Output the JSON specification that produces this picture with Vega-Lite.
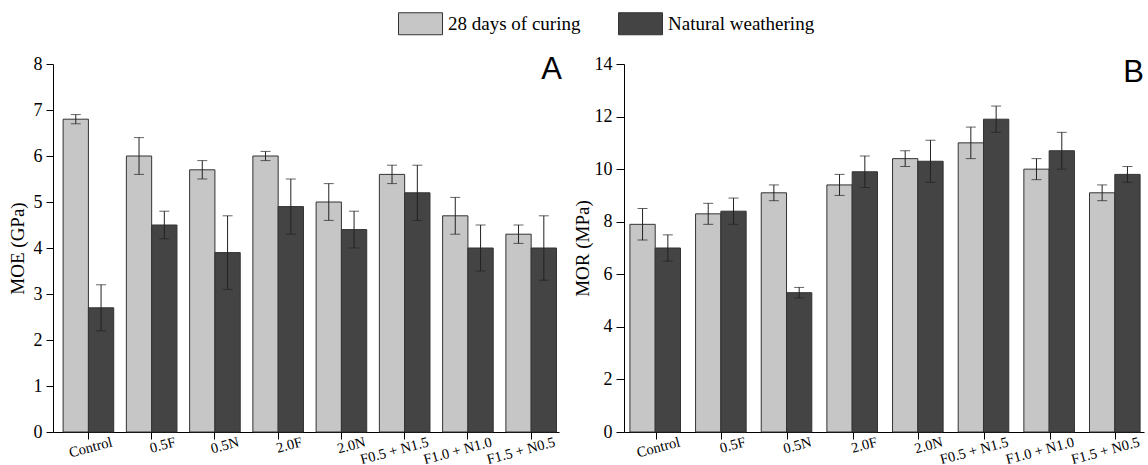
{
  "$schema": "https://vega.github.io/schema/vega-lite/v6.json",
  "padding": {"left": 8, "top": 1, "right": 2, "bottom": 0},
  "spacing": 11,
  "datasets": {
    "moe": [
      {"sample": "Control", "cond": "28 days of curing", "value": 6.8, "sd": 0.1},
      {"sample": "Control", "cond": "Natural weathering", "value": 2.7, "sd": 0.5},
      {"sample": "0.5F", "cond": "28 days of curing", "value": 6.0, "sd": 0.4},
      {"sample": "0.5F", "cond": "Natural weathering", "value": 4.5, "sd": 0.3},
      {"sample": "0.5N", "cond": "28 days of curing", "value": 5.7, "sd": 0.2},
      {"sample": "0.5N", "cond": "Natural weathering", "value": 3.9, "sd": 0.8},
      {"sample": "2.0F", "cond": "28 days of curing", "value": 6.0, "sd": 0.1},
      {"sample": "2.0F", "cond": "Natural weathering", "value": 4.9, "sd": 0.6},
      {"sample": "2.0N", "cond": "28 days of curing", "value": 5.0, "sd": 0.4},
      {"sample": "2.0N", "cond": "Natural weathering", "value": 4.4, "sd": 0.4},
      {"sample": "F0.5 + N1.5", "cond": "28 days of curing", "value": 5.6, "sd": 0.2},
      {"sample": "F0.5 + N1.5", "cond": "Natural weathering", "value": 5.2, "sd": 0.6},
      {"sample": "F1.0 + N1.0", "cond": "28 days of curing", "value": 4.7, "sd": 0.4},
      {"sample": "F1.0 + N1.0", "cond": "Natural weathering", "value": 4.0, "sd": 0.5},
      {"sample": "F1.5 + N0.5", "cond": "28 days of curing", "value": 4.3, "sd": 0.2},
      {"sample": "F1.5 + N0.5", "cond": "Natural weathering", "value": 4.0, "sd": 0.7}
    ],
    "mor": [
      {"sample": "Control", "cond": "28 days of curing", "value": 7.9, "sd": 0.6},
      {"sample": "Control", "cond": "Natural weathering", "value": 7.0, "sd": 0.5},
      {"sample": "0.5F", "cond": "28 days of curing", "value": 8.3, "sd": 0.4},
      {"sample": "0.5F", "cond": "Natural weathering", "value": 8.4, "sd": 0.5},
      {"sample": "0.5N", "cond": "28 days of curing", "value": 9.1, "sd": 0.3},
      {"sample": "0.5N", "cond": "Natural weathering", "value": 5.3, "sd": 0.2},
      {"sample": "2.0F", "cond": "28 days of curing", "value": 9.4, "sd": 0.4},
      {"sample": "2.0F", "cond": "Natural weathering", "value": 9.9, "sd": 0.6},
      {"sample": "2.0N", "cond": "28 days of curing", "value": 10.4, "sd": 0.3},
      {"sample": "2.0N", "cond": "Natural weathering", "value": 10.3, "sd": 0.8},
      {"sample": "F0.5 + N1.5", "cond": "28 days of curing", "value": 11.0, "sd": 0.6},
      {"sample": "F0.5 + N1.5", "cond": "Natural weathering", "value": 11.9, "sd": 0.5},
      {"sample": "F1.0 + N1.0", "cond": "28 days of curing", "value": 10.0, "sd": 0.4},
      {"sample": "F1.0 + N1.0", "cond": "Natural weathering", "value": 10.7, "sd": 0.7},
      {"sample": "F1.5 + N0.5", "cond": "28 days of curing", "value": 9.1, "sd": 0.3},
      {"sample": "F1.5 + N0.5", "cond": "Natural weathering", "value": 9.8, "sd": 0.3}
    ]
  },
  "config": {
    "font": "Liberation Serif",
    "view": {"stroke": null},
    "axis": {
      "grid": false,
      "domainColor": "#000000",
      "tickColor": "#000000",
      "labelColor": "#000000",
      "titleColor": "#000000",
      "labelFont": "Liberation Serif",
      "titleFont": "Liberation Serif",
      "titleFontWeight": "normal",
      "tickSize": 7
    },
    "axisY": {"labelFontSize": 18, "titleFontSize": 19, "labelPadding": 4},
    "axisX": {"labelFontSize": 14.5, "labelAngle": -15, "labelAlign": "right", "labelBaseline": "top", "labelOffset": 22, "labelPadding": -4, "title": null}
  },
  "hconcat": [
    {
      "width": 506,
      "height": 368,
      "title": {"text": "A", "anchor": "end", "frame": "group", "font": "Liberation Sans", "fontSize": 31, "fontWeight": "normal", "color": "#000000", "offset": -31, "dx": 3},
      "data": {"name": "moe"},
      "encoding": {
        "x": {"field": "sample", "type": "nominal", "sort": ["Control", "0.5F", "0.5N", "2.0F", "2.0N", "F0.5 + N1.5", "F1.0 + N1.0", "F1.5 + N0.5"], "scale": {"paddingInner": 0.2, "paddingOuter": 0.1, "align": 0.8}, "axis": {"title": null}},
        "xOffset": {"field": "cond", "type": "nominal", "sort": ["28 days of curing", "Natural weathering"]},
        "y": {"field": "value", "type": "quantitative", "scale": {"domain": [0, 8]}, "axis": {"title": "MOE (GPa)", "titlePadding": 6, "values": [0, 1, 2, 3, 4, 5, 6, 7, 8]}}
      },
      "layer": [
        {
          "mark": {"type": "bar", "stroke": "#333333", "strokeWidth": 1},
          "encoding": {
            "color": {"field": "cond", "type": "nominal", "scale": {"domain": ["28 days of curing", "Natural weathering"], "range": ["#c6c6c6", "#444444"]},
              "legend": {"orient": "none", "legendX": 345, "legendY": -63, "direction": "horizontal", "title": null, "symbolType": "M-1,-0.5H1V0.5H-1Z", "symbolSize": 1936, "symbolStrokeColor": "#333333", "symbolStrokeWidth": 1, "symbolOpacity": 1, "labelFont": "Liberation Serif", "labelFontSize": 19, "labelColor": "#000000", "labelOffset": 5, "columnPadding": 35, "padding": 0}}
          }
        },
        {
          "mark": {"type": "errorbar", "color": "#222222", "ticks": {"size": 10}},
          "encoding": {"yError": {"field": "sd"}}
        }
      ]
    },
    {
      "width": 520,
      "height": 368,
      "title": {"text": "B", "anchor": "end", "frame": "group", "font": "Liberation Sans", "fontSize": 31, "fontWeight": "normal", "color": "#000000", "offset": -34, "dx": 0},
      "data": {"name": "mor"},
      "encoding": {
        "x": {"field": "sample", "type": "nominal", "sort": ["Control", "0.5F", "0.5N", "2.0F", "2.0N", "F0.5 + N1.5", "F1.0 + N1.0", "F1.5 + N0.5"], "scale": {"paddingInner": 0.2, "paddingOuter": 0.06, "align": 0.75}, "axis": {"title": null}},
        "xOffset": {"field": "cond", "type": "nominal", "sort": ["28 days of curing", "Natural weathering"]},
        "y": {"field": "value", "type": "quantitative", "scale": {"domain": [0, 14]}, "axis": {"title": "MOR (MPa)", "titlePadding": 2, "tickSize": 8, "values": [0, 2, 4, 6, 8, 10, 12, 14]}}
      },
      "layer": [
        {
          "mark": {"type": "bar", "stroke": "#333333", "strokeWidth": 1},
          "encoding": {
            "color": {"field": "cond", "type": "nominal", "scale": {"domain": ["28 days of curing", "Natural weathering"], "range": ["#c6c6c6", "#444444"]}}
          }
        },
        {
          "mark": {"type": "errorbar", "color": "#222222", "ticks": {"size": 10}},
          "encoding": {"yError": {"field": "sd"}}
        }
      ]
    }
  ]
}
